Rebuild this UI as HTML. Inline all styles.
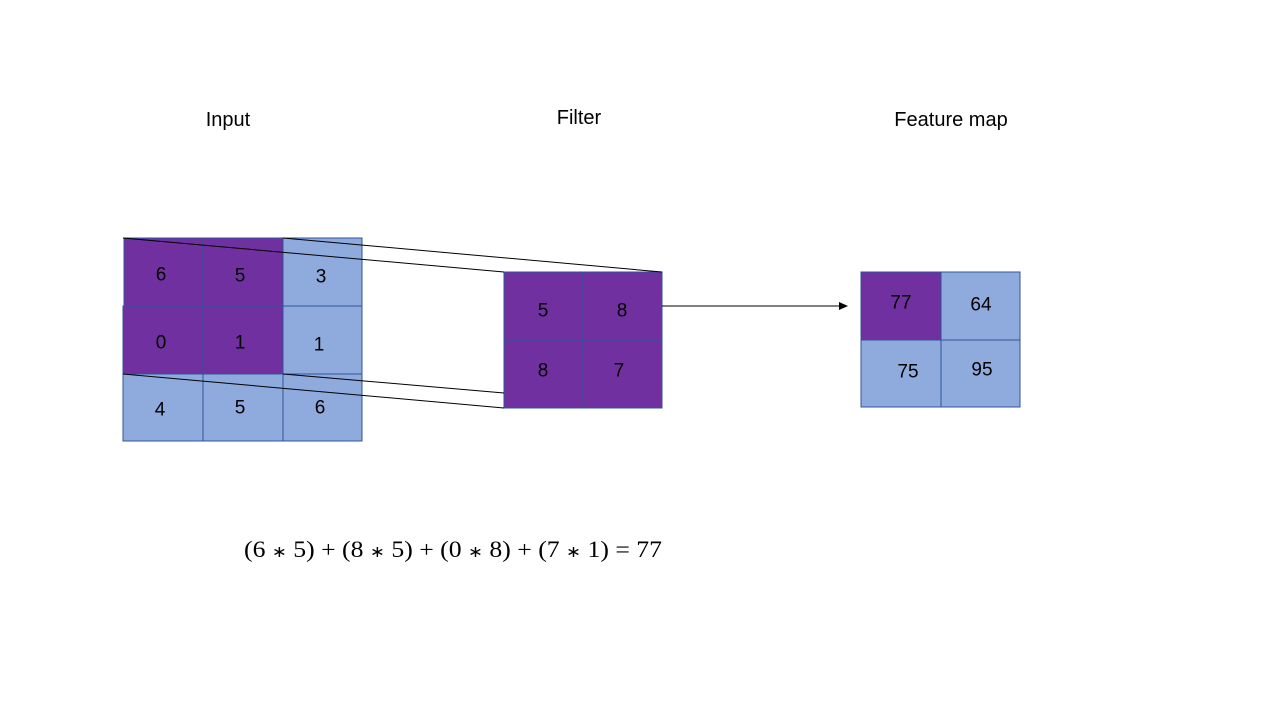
<!DOCTYPE html>
<html><head><meta charset="utf-8"><style>
body{margin:0;background:#fff;}
svg{display:block;font-family:"Liberation Sans",sans-serif;}
.n{font-size:19px;fill:#000;text-anchor:middle;dominant-baseline:central;}
.t{font-size:20px;fill:#000;text-anchor:middle;}
.a{font-size:16px;}
</style></head><body>
<svg width="1280" height="720" viewBox="0 0 1280 720">
<text class="t" x="228" y="126">Input</text>
<text class="t" x="579" y="124">Filter</text>
<text class="t" x="951" y="126">Feature map</text>

<g stroke="#2F5597" stroke-width="1">
<rect x="124" y="238" width="79" height="68" fill="#7030A0"/>
<rect x="203" y="238" width="80" height="68" fill="#7030A0"/>
<rect x="283" y="238" width="79" height="68" fill="#8FAADC"/>
<rect x="123" y="306" width="80" height="68" fill="#7030A0"/>
<rect x="203" y="306" width="80" height="68" fill="#7030A0"/>
<rect x="283" y="306" width="79" height="68" fill="#8FAADC"/>
<rect x="123" y="374" width="80" height="67" fill="#8FAADC"/>
<rect x="203" y="374" width="80" height="67" fill="#8FAADC"/>
<rect x="283" y="374" width="79" height="67" fill="#8FAADC"/>
</g>
<g>
<text class="n" x="161" y="275">6</text><text class="n" x="240" y="276">5</text><text class="n" x="321" y="277">3</text>
<text class="n" x="161" y="343">0</text><text class="n" x="240" y="343">1</text><text class="n" x="319" y="345">1</text>
<text class="n" x="160" y="410">4</text><text class="n" x="240" y="408">5</text><text class="n" x="320" y="408">6</text>
</g>

<g stroke="#2F5597" stroke-width="1" fill="#7030A0">
<rect x="504" y="272" width="79" height="69"/>
<rect x="583" y="272" width="79" height="69"/>
<rect x="504" y="341" width="79" height="67"/>
<rect x="583" y="341" width="79" height="67"/>
</g>
<g>
<text class="n" x="543" y="311">5</text><text class="n" x="622" y="311">8</text>
<text class="n" x="543" y="371">8</text><text class="n" x="619" y="371">7</text>
</g>

<g stroke="#000" stroke-width="1">
<line x1="123" y1="238" x2="504" y2="272"/>
<line x1="283" y1="238" x2="662" y2="272"/>
<line x1="283" y1="374" x2="504" y2="393"/>
<line x1="123" y1="374" x2="504" y2="408"/>
</g>
<g>
<line x1="662" y1="306" x2="840" y2="306" stroke="#000" stroke-width="1"/>
<polygon points="848,306 839,302 839,310" fill="#000"/>
</g>

<g stroke="#2F5597" stroke-width="1">
<rect x="861" y="272" width="80" height="68" fill="#7030A0"/>
<rect x="941" y="272" width="79" height="68" fill="#8FAADC"/>
<rect x="861" y="340" width="80" height="67" fill="#8FAADC"/>
<rect x="941" y="340" width="79" height="67" fill="#8FAADC"/>
</g>
<g>
<text class="n" x="901" y="303">77</text><text class="n" x="981" y="305">64</text>
<text class="n" x="908" y="372">75</text><text class="n" x="982" y="370">95</text>
</g>

<text x="453" y="557" text-anchor="middle" textLength="418" lengthAdjust="spacingAndGlyphs" style="font-family:'Liberation Serif',serif;font-size:23px;fill:#000">(6 <tspan class="a">∗</tspan> 5) + (8 <tspan class="a">∗</tspan> 5) + (0 <tspan class="a">∗</tspan> 8) + (7 <tspan class="a">∗</tspan> 1) = 77</text>
</svg>
</body></html>
